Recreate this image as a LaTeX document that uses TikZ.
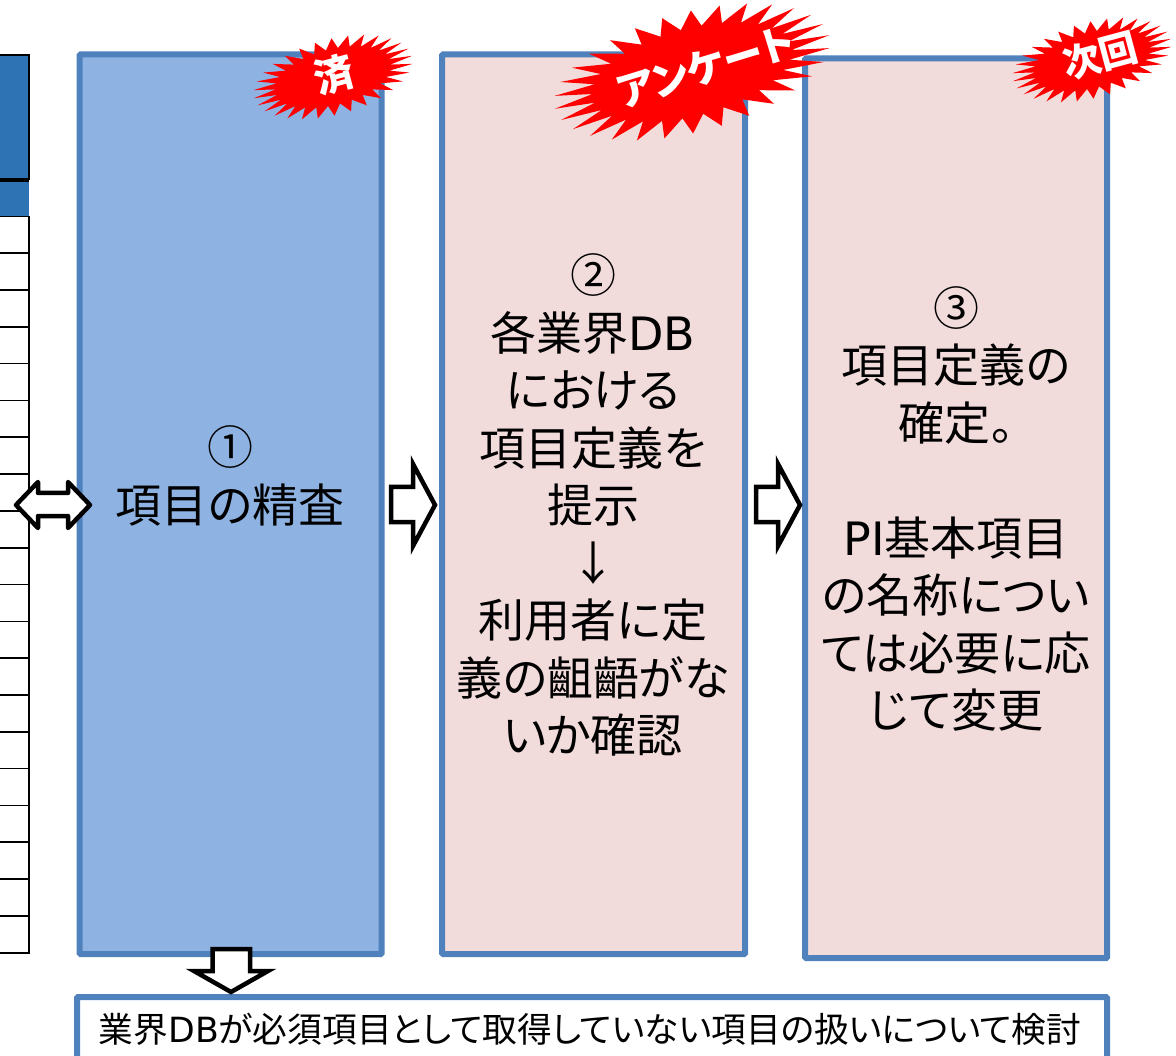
\documentclass[tikz,border=0pt]{standalone}
\usepackage{fontspec}
\setmainfont[RawFeature={+palt}]{Noto Sans CJK JP}
\newfontfamily\latinf{DejaVu Sans}
\definecolor{boxline}{HTML}{4F81BD}
\definecolor{boxblue}{HTML}{8EB2E2}
\definecolor{boxpink}{HTML}{F2DCDB}
\definecolor{tblue}{HTML}{2E74B5}
\newcommand{\burstshape}[5]{% cx cy a b rot
  \fill[red,shift={(#1,#2)},rotate=#5] plot[samples at={0,...,59}] ({#3*(mod(\x,2)==0?1:0.72)*cos(\x*6)},{#4*(mod(\x,2)==0?1:0.72)*sin(\x*6)}) -- cycle;}
\tikzset{
  stepbox/.style={draw=boxline,line width=6pt,rounded corners=1pt,anchor=north west,inner sep=0pt,outer sep=0pt},
  boxtext/.style={align=center,font=\fontsize{46}{57.5}\selectfont,inner sep=0pt},
  bursttext/.style={white,inner sep=0pt},
  blockmiter/.style={draw=black,fill=white,line width=4.5pt,miter limit=10},
  blockround/.style={draw=black,fill=white,line width=4.5pt,line join=round},
  tline/.style={draw=black,line width=2pt}
}
\begin{document}
\begin{tikzpicture}[x=1pt,y=-1pt]
\useasboundingbox (0,0) rectangle (1176,1056);
\clip (0,0) rectangle (1176,1056);
% table at left
\fill[tblue] (0,55) rectangle (29,179);
\fill[tblue] (0,182) rectangle (29,216);
\draw[tline] (0,55) -- (29,55) -- (29,179) -- (0,179);
\draw[tline] (29,216) -- (29,952.5) -- (0,952.5);
\draw[tline] (0,181) -- (29,181);
\foreach \i in {0,...,19} \draw[tline,line width=1.6pt] (0,{216.5+\i*36.8}) -- (29,{216.5+\i*36.8});
% boxes
\node[stepbox,fill=boxblue,minimum width=302pt,minimum height=899.5pt] (b1) at (79.5,54.5) {};
\node[stepbox,fill=boxpink,minimum width=303pt,minimum height=899.5pt] (b2) at (442,54.5) {};
\node[stepbox,fill=boxpink,minimum width=302pt,minimum height=899.5pt] (b3) at (805,58.5) {};
\node[stepbox,fill=white,minimum width=1030pt,minimum height=120pt] (b4) at (77,997) {};
% box texts
\node[boxtext] (t1) at (230,476) {①\\項目の精査};
\node[boxtext] (t2) at (593,505) {②\\各業界{\latinf DB}\\における\\項目定義を\\提示\\↓\\利用者に定\\義の齟齬がな\\いか確認};
\node[boxtext] (t3) at (956,509) {③\\項目定義の\\確定。\\[57.5pt]{\latinf PI}基本項目\\の名称につい\\ては必要に応\\じて変更};
\node[inner sep=0pt,font=\fontsize{34.7}{40}\selectfont] (t4) at (590,1029) {業界{\latinf DB}が必須項目として取得していない項目の扱いについて検討};
% bursts
\burstshape{333}{77}{82}{38}{15}
\burstshape{692}{72}{142}{60}{15}
\burstshape{1092}{60}{82}{38}{15}
\node[bursttext,rotate=15,font=\bfseries\fontsize{40}{46}\selectfont] (s1) at (334,75) {済};
\node[bursttext,rotate=17,font=\bfseries\fontsize{40}{46}\selectfont] (s2) at (706,67) {アンケート};
\node[bursttext,rotate=15,font=\bfseries\fontsize{38}{44}\selectfont] (s3) at (1100,56) {次回};
% block arrows
\draw[blockround] (16,505) -- (38,482) -- (38,493) -- (68,493) -- (68,482) -- (90,505) -- (68,528) -- (68,516) -- (38,516) -- (38,528) -- cycle;
\draw[blockmiter] (391,487) -- (413,487) -- (413,464) -- (435,505) -- (413,546) -- (413,522) -- (391,522) -- cycle;
\draw[blockmiter] (756,487) -- (778,487) -- (778,464) -- (800,505) -- (778,546) -- (778,522) -- (756,522) -- cycle;
\draw[blockmiter] (212.5,949) -- (250,949) -- (250,971) -- (268,971) -- (231,992) -- (194,971) -- (212.5,971) -- cycle;
\end{tikzpicture}
\end{document}
